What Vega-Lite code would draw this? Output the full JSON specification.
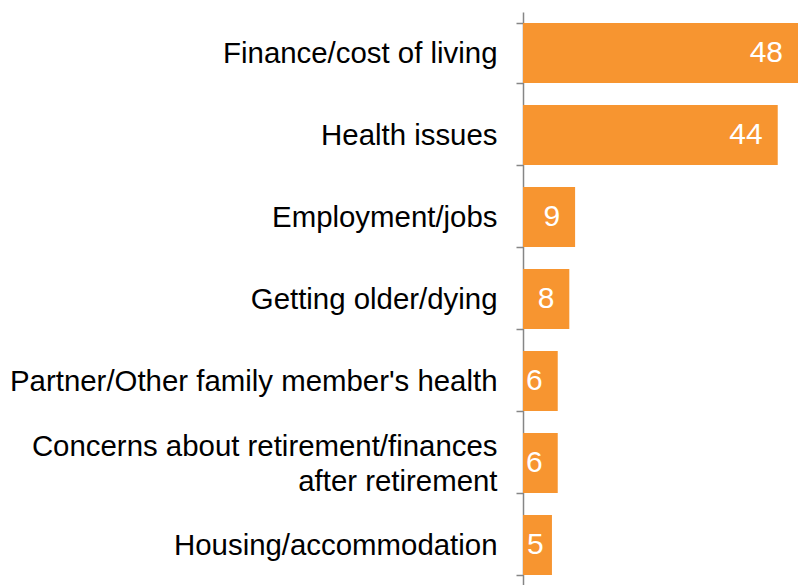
{
  "$schema": "https://vega.github.io/schema/vega-lite/v6.json",
  "autosize": {"type": "none"},
  "padding": {"left": 523, "top": 12, "right": 0, "bottom": 0},
  "width": 275,
  "height": 574,
  "background": "white",
  "config": {"view": {"stroke": null}, "font": "Liberation Sans"},
  "data": {
    "values": [
      {"category": "Finance/cost of living", "value": 48},
      {"category": "Health issues", "value": 44},
      {"category": "Employment/jobs", "value": 9},
      {"category": "Getting older/dying", "value": 8},
      {"category": "Partner/Other family member's health", "value": 6},
      {"category": "Concerns about retirement/finances\nafter retirement", "value": 6},
      {"category": "Housing/accommodation", "value": 5}
    ]
  },
  "encoding": {
    "y": {
      "field": "category",
      "type": "nominal",
      "sort": null,
      "scale": {"paddingInner": 0.27, "paddingOuter": 0.135},
      "axis": {
        "title": null,
        "domainColor": "#868686",
        "domainWidth": 1.5,
        "tickColor": "#868686",
        "tickWidth": 1.5,
        "tickSize": 7,
        "tickBand": "extent",
        "labelFont": "Liberation Sans",
        "labelFontSize": 29.4,
        "labelColor": "#000000",
        "labelPadding": 19,
        "labelLimit": 600,
        "labelLineHeight": 35,
        "labelOffset": {
          "condition": {"test": "isValid(datum.value) && indexof(datum.value, '\\n') >= 0", "value": -17},
          "value": 0
        },
        "labelExpr": "isValid(datum.value) ? split(datum.value, '\\n') : ''"
      }
    },
    "x": {
      "field": "value",
      "type": "quantitative",
      "scale": {"domain": [0, 47.5], "clamp": true, "nice": false},
      "axis": null
    }
  },
  "layer": [
    {"mark": {"type": "bar", "color": "#F79530"}},
    {
      "transform": [{"filter": "datum.value > 5"}],
      "mark": {
        "type": "text",
        "align": "right",
        "baseline": "middle",
        "dx": -15,
        "color": "white",
        "font": "Liberation Sans",
        "fontSize": 30
      },
      "encoding": {"text": {"field": "value", "type": "quantitative"}}
    },
    {
      "transform": [{"filter": "datum.value <= 5"}],
      "mark": {
        "type": "text",
        "align": "left",
        "baseline": "middle",
        "dx": 4,
        "color": "white",
        "font": "Liberation Sans",
        "fontSize": 30
      },
      "encoding": {
        "x": {"datum": 0},
        "text": {"field": "value", "type": "quantitative"}
      }
    }
  ]
}
